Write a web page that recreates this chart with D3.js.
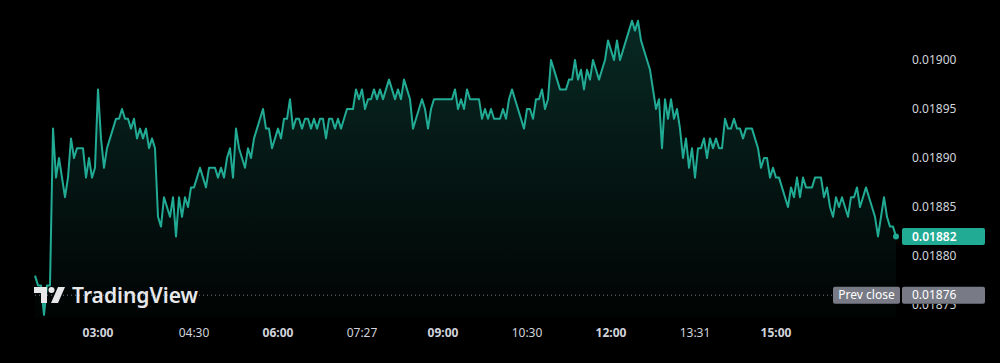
<!DOCTYPE html>
<html>
<head>
<meta charset="utf-8">
<script src="https://cdn.jsdelivr.net/npm/d3@7"></script>
<style>
  html, body { margin: 0; padding: 0; background: #000; }
  svg { display: block; }
  text { font-family: "Noto Sans", "Liberation Sans", sans-serif; }
</style>
</head>
<body>
<svg id="chart"></svg>
<script>
// price in units of 0.00001 (e.g. 1882 -> 0.01882), one value per bar
const priceTicks = [
  1878, 1877, 1877, 1874, 1877, 1877, 1893, 1888, 1890, 1888,
  1886, 1888, 1892, 1890, 1891, 1891, 1891, 1888, 1890, 1888,
  1889, 1897, 1892, 1889, 1891, 1892, 1893, 1894, 1894, 1895,
  1894, 1894, 1893, 1894, 1892, 1893, 1892, 1893, 1891, 1892,
  1891, 1884, 1883, 1886, 1885, 1884, 1886, 1882, 1886, 1884,
  1886, 1885, 1887, 1887, 1888, 1889, 1888, 1887, 1889, 1889,
  1889, 1888, 1889, 1888, 1890, 1891, 1888, 1893, 1891, 1890,
  1889, 1891, 1890, 1892, 1893, 1894, 1895, 1893, 1893, 1891,
  1892, 1893, 1892, 1894, 1894, 1896, 1893, 1894, 1894, 1893,
  1894, 1894, 1893, 1894, 1893, 1894, 1894, 1892, 1894, 1894,
  1893, 1894, 1893, 1894, 1895, 1895, 1895, 1897, 1896, 1897,
  1895, 1896, 1896, 1897, 1896, 1897, 1896, 1897, 1898, 1897,
  1896, 1897, 1896, 1898, 1897, 1896, 1893, 1894, 1895, 1896,
  1895, 1893, 1895, 1896, 1896, 1896, 1896, 1896, 1896, 1896,
  1897, 1895, 1896, 1895, 1897, 1896, 1896, 1896, 1896, 1894,
  1895, 1894, 1895, 1894, 1894, 1894, 1895, 1894, 1896, 1897,
  1896, 1895, 1894, 1893, 1895, 1895, 1894, 1896, 1896, 1897,
  1895, 1896, 1900, 1899, 1898, 1897, 1897, 1897, 1898, 1898,
  1900, 1898, 1899, 1897, 1899, 1898, 1900, 1899, 1898, 1899,
  1900, 1902, 1901, 1900, 1902, 1900, 1901, 1902, 1903, 1904,
  1903, 1904, 1902, 1901, 1900, 1899, 1897, 1895, 1896, 1891,
  1896, 1894, 1896, 1894, 1895, 1893, 1890, 1892, 1889, 1891,
  1888, 1891, 1891, 1892, 1890, 1892, 1891, 1892, 1891, 1891,
  1894, 1893, 1893, 1894, 1893, 1893, 1892, 1893, 1893, 1893,
  1892, 1891, 1889, 1890, 1890, 1888, 1889, 1888, 1888, 1887,
  1886, 1885, 1887, 1886, 1888, 1886, 1888, 1887, 1887, 1887,
  1888, 1888, 1888, 1886, 1887, 1885, 1884, 1886, 1885, 1886,
  1885, 1884, 1886, 1886, 1887, 1885, 1886, 1887, 1886, 1885,
  1884, 1882, 1884, 1886, 1884, 1883, 1883, 1882
];
const prices = priceTicks.map(v => v / 100000);

const timeTickIndex = [21, 53, 81, 109, 136, 164, 192, 220, 247];
const timeTickLabels = ["03:00", "04:30", "06:00", "07:27", "09:00", "10:30", "12:00", "13:31", "15:00"];
const timeTickMajor = [true, false, true, false, true, false, true, false, true];

const priceTickValues = [0.01875, 0.01880, 0.01885, 0.01890, 0.01895, 0.01900];
const prevClose = 0.01876;

const width = 1000, height = 363;
const lineColor = "#22ab94";
const textColor = "#d1d4dc";

const svg = d3.select("#chart").attr("width", width).attr("height", height);

const x = d3.scaleLinear().domain([0, prices.length - 1]).range([35, 896]);
const y = d3.scaleLinear().domain([0.01880, 0.01900]).range([256, 60]);
const paneBottom = 318;

const defs = svg.append("defs");
const grad = defs.append("linearGradient")
  .attr("id", "areaFill").attr("x1", 0).attr("x2", 0)
  .attr("gradientUnits", "userSpaceOnUse")
  .attr("y1", y(0.01904)).attr("y2", paneBottom);
grad.append("stop").attr("offset", 0).attr("stop-color", lineColor).attr("stop-opacity", 0.24);
grad.append("stop").attr("offset", 1).attr("stop-color", lineColor).attr("stop-opacity", 0.02);

// price labels below the prev close box only show their lower part
defs.append("clipPath").attr("id", "belowBox")
  .append("rect").attr("x", 900).attr("y", y(prevClose) + 8.5).attr("width", 100).attr("height", 40);

const area = d3.area()
  .x((d, i) => x(i))
  .y0(paneBottom)
  .y1(d => y(d));

const line = d3.line()
  .x((d, i) => x(i))
  .y(d => y(d));

svg.append("path")
  .datum(prices)
  .attr("fill", "url(#areaFill)")
  .attr("d", area);

// prev close dotted line
svg.append("line")
  .attr("x1", 35).attr("x2", 833)
  .attr("y1", y(prevClose)).attr("y2", y(prevClose))
  .attr("stroke", "#787b86")
  .attr("stroke-width", 1)
  .attr("stroke-dasharray", "1,3");

svg.append("path")
  .datum(prices)
  .attr("fill", "none")
  .attr("stroke", lineColor)
  .attr("stroke-width", 2)
  .attr("stroke-linejoin", "round")
  .attr("d", line);

const last = prices.length - 1;
svg.append("circle")
  .attr("cx", x(last)).attr("cy", y(prices[last]))
  .attr("r", 3)
  .attr("fill", lineColor);

// price axis labels
const fmt = d3.format(".5f");
svg.append("g").selectAll("text")
  .data(priceTickValues)
  .join("text")
  .attr("x", 912)
  .attr("y", d => y(d))
  .attr("dy", "0.35em")
  .attr("fill", textColor)
  .attr("font-size", 12)
  .attr("clip-path", d => Math.abs(y(d) - y(prevClose)) < 17 ? "url(#belowBox)" : null)
  .text(d => fmt(d));

// time axis labels
svg.append("g").selectAll("text")
  .data(timeTickIndex)
  .join("text")
  .attr("x", d => x(d))
  .attr("y", 333)
  .attr("dy", "0.35em")
  .attr("text-anchor", "middle")
  .attr("fill", textColor)
  .attr("font-size", 12)
  .attr("font-weight", (d, i) => timeTickMajor[i] ? 700 : 400)
  .text((d, i) => timeTickLabels[i]);

// prev close labels
const pcY = y(prevClose);
svg.append("rect").attr("x", 833).attr("y", pcY - 8.5).attr("width", 67).attr("height", 17)
  .attr("rx", 2).attr("fill", "#787b86");
svg.append("text").attr("x", 866.5).attr("y", pcY).attr("dy", "0.35em")
  .attr("text-anchor", "middle").attr("fill", "#fff").attr("font-size", 12).text("Prev close");
svg.append("rect").attr("x", 902).attr("y", pcY - 8.5).attr("width", 83).attr("height", 17)
  .attr("rx", 2).attr("fill", "#787b86");
svg.append("text").attr("x", 912).attr("y", pcY).attr("dy", "0.35em")
  .attr("fill", "#fff").attr("font-size", 12).text(fmt(prevClose));

// last price label
const lastY = y(prices[last]);
svg.append("rect").attr("x", 902).attr("y", lastY - 8.5).attr("width", 83).attr("height", 17)
  .attr("rx", 2).attr("fill", lineColor);
svg.append("text").attr("x", 912).attr("y", lastY).attr("dy", "0.35em")
  .attr("fill", "#fff").attr("font-size", 12).attr("font-weight", 600).text(fmt(prices[last]));

// TradingView watermark
const logo = svg.append("g").attr("transform", "translate(34,287)").attr("fill", "#e8e8ea");
logo.append("path").attr("d", "M0,0 H13 V16 H7 V6 H0 Z");
logo.append("circle").attr("cx", 17.5).attr("cy", 3).attr("r", 3);
logo.append("path").attr("d", "M24,0 H31 L24,16 H17 Z");
svg.append("text")
  .attr("x", 72).attr("y", 303)
  .attr("fill", "#e8e8ea")
  .attr("font-size", 21)
  .attr("font-weight", 600)
  .text("TradingView");
</script>
</body>
</html>
